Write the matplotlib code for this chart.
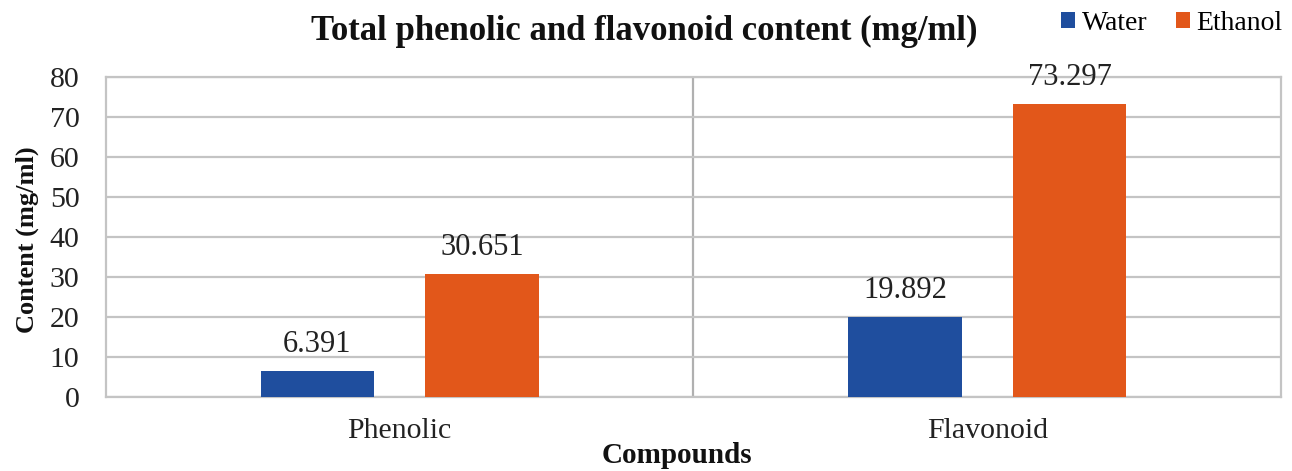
import matplotlib
matplotlib.use("Agg")
import matplotlib.pyplot as plt
import numpy as np

categories = ["Phenolic", "Flavonoid"]
water = [6.391, 19.892]
ethanol = [30.651, 73.297]
series_names = ["Water", "Ethanol"]
yticks = [0, 10, 20, 30, 40, 50, 60, 70, 80]

plt.rcParams['font.family'] = ['Liberation Serif', 'DejaVu Serif']

fig = plt.figure(figsize=(12.92, 4.71), dpi=100)
ax = fig.add_axes([106/1292, 1-397/471, (1281-106)/1292, (397-77)/471])

x = np.arange(len(categories))
w = 0.194
off = 0.14
c_water = '#1F4E9E'
c_eth = '#E2571A'
b1 = ax.bar(x - off, water, w, color=c_water, label=series_names[0], zorder=3)
b2 = ax.bar(x + off, ethanol, w, color=c_eth, label=series_names[1], zorder=3)

for bars, vals in ((b1, water), (b2, ethanol)):
    for r, v in zip(bars, vals):
        ax.text(r.get_x() + r.get_width()/2, v + 3.0, f"{v:.3f}", ha='center', va='bottom',
                fontsize=22, color='#222222')

ax.set_xlim(-0.5, 1.5)
ax.set_ylim(0, 80)
ax.set_yticks(yticks)
ax.set_xticks(x)
ax.set_xticklabels(categories)
ax.tick_params(axis='both', length=0, labelsize=21.5, colors='#222222')
ax.tick_params(axis='y', pad=19)
ax.tick_params(axis='x', pad=15)
ax.yaxis.grid(True, color='#c4c4c4', lw=1.6, zorder=0)
ax.axvline(0.5, color='#b0b0b0', lw=1.6, zorder=1)
for s in ax.spines.values():
    s.set_color('#c4c4c4')
    s.set_linewidth(1.6)

fig.text(27/1292, 1-240/471, "Content (mg/ml)", rotation=90, ha='center', va='center',
         fontsize=19, fontweight='bold', color='#111111')
fig.text(677/1292, 2/471, "Compounds", ha='center', va='bottom',
         fontsize=21, fontweight='bold', color='#111111')

fig.text(644/1292, 1-31/471, "Total phenolic and flavonoid content (mg/ml)", ha='center', va='center',
         fontsize=25, fontweight='bold', color='#111111')

fig.legend(handles=[b1, b2], labels=series_names, loc='center', bbox_to_anchor=(1172/1292, 1-23/471),
           ncol=2, frameon=False, fontsize=20, handlelength=0.5, handleheight=0.5,
           handletextpad=0.25, columnspacing=1.0, borderpad=0, borderaxespad=0)

fig.savefig("out.png", dpi=100)
